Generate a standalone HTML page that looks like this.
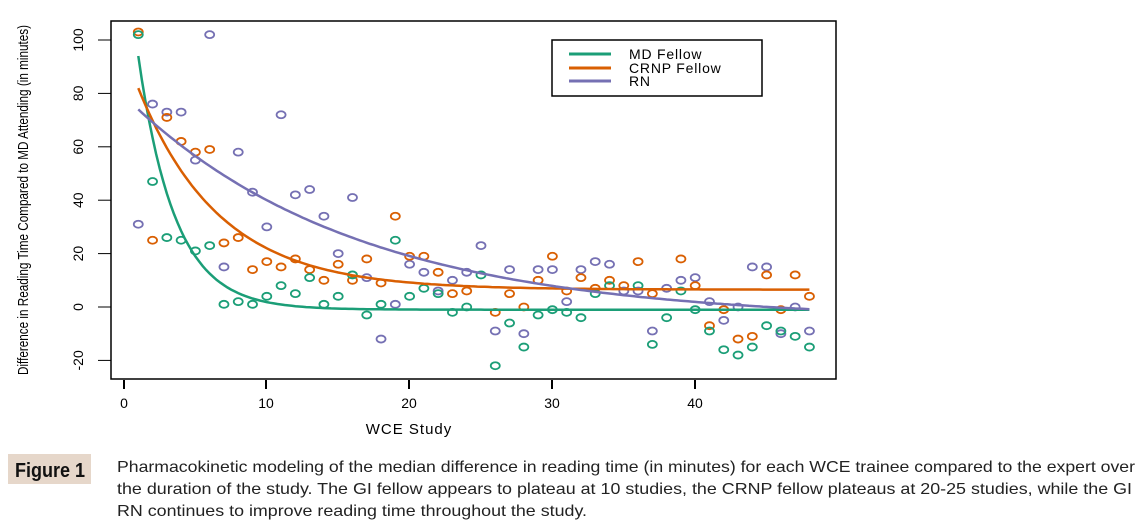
<!DOCTYPE html>
<html><head><meta charset="utf-8"><style>
html,body{margin:0;padding:0;background:#fff;}
svg{display:block;font-family:"Liberation Sans",sans-serif;}
</style></head><body>
<svg id="s" width="1141" height="525" viewBox="0 0 1141 525" xmlns="http://www.w3.org/2000/svg">
<rect x="0" y="0" width="1141" height="525" fill="#fff"/>
<rect x="111" y="21" width="725" height="358" fill="none" stroke="#000" stroke-width="1.5"/>
<g stroke="#000" stroke-width="2">
<line x1="124" y1="380" x2="124" y2="389"/><line x1="266" y1="380" x2="266" y2="389"/>
<line x1="409" y1="380" x2="409" y2="389"/><line x1="552" y1="380" x2="552" y2="389"/>
<line x1="695" y1="380" x2="695" y2="389"/>
</g>
<g font-size="14" text-anchor="middle" fill="#000">
<text x="124" y="408">0</text><text x="266" y="408">10</text><text x="409" y="408">20</text>
<text x="552" y="408">30</text><text x="695" y="408">40</text>
<text x="409" y="434" font-size="15" letter-spacing="1">WCE Study</text>
</g>
<g stroke="#000" stroke-width="1">
<line x1="98" y1="40" x2="111" y2="40"/><line x1="98" y1="93.4" x2="111" y2="93.4"/>
<line x1="98" y1="146.8" x2="111" y2="146.8"/><line x1="98" y1="200.2" x2="111" y2="200.2"/>
<line x1="98" y1="253.6" x2="111" y2="253.6"/><line x1="98" y1="307" x2="111" y2="307"/>
<line x1="98" y1="360.4" x2="111" y2="360.4"/>
</g>
<g font-size="14" text-anchor="middle" fill="#000">
<text transform="translate(83,40) rotate(-90)">100</text>
<text transform="translate(83,93.4) rotate(-90)">80</text>
<text transform="translate(83,146.8) rotate(-90)">60</text>
<text transform="translate(83,200.2) rotate(-90)">40</text>
<text transform="translate(83,253.6) rotate(-90)">20</text>
<text transform="translate(83,307) rotate(-90)">0</text>
<text transform="translate(83,360.4) rotate(-90)">-20</text>
<text transform="translate(28,200) rotate(-90)" font-size="15" textLength="350" lengthAdjust="spacingAndGlyphs">Difference in Reading Time Compared to MD Attending (in minutes)</text>
</g>
<g id="pts"></g>
<g id="crv"></g>
<rect x="552" y="40" width="210" height="56" fill="#fff" stroke="#000" stroke-width="1.5"/>
<line x1="569" y1="54" x2="611" y2="54" stroke="#1b9e77" stroke-width="3"/>
<line x1="569" y1="68" x2="611" y2="68" stroke="#d95f02" stroke-width="3"/>
<line x1="569" y1="81" x2="611" y2="81" stroke="#7570b3" stroke-width="3"/>
<g font-size="14" fill="#000" letter-spacing="0.8">
<text x="629" y="59">MD Fellow</text>
<text x="629" y="73">CRNP Fellow</text>
<text x="629" y="86">RN</text>
</g>
<rect x="8" y="454" width="83" height="30" fill="#e6d7ca"/>
<text x="15" y="477" font-size="20" font-weight="bold" fill="#111" textLength="70" lengthAdjust="spacingAndGlyphs">Figure 1</text>
<g font-size="16" fill="#222">
<text x="117" y="472" textLength="1018" lengthAdjust="spacingAndGlyphs">Pharmacokinetic modeling of the median difference in reading time (in minutes) for each WCE trainee compared to the expert over</text>
<text x="117" y="494" textLength="1015" lengthAdjust="spacingAndGlyphs">the duration of the study. The GI fellow appears to plateau at 10 studies, the CRNP fellow plateaus at 20-25 studies, while the GI</text>
<text x="117" y="516" textLength="470" lengthAdjust="spacingAndGlyphs">RN continues to improve reading time throughout the study.</text>
</g>
</svg>
<script>
(function(){
var NS="http://www.w3.org/2000/svg";
function X(x){return 124+x*14.28;}
function Y(y){return 307-y*2.67;}
var G=[102,47,26,25,21,23,1,2,1,4,8,5,11,1,4,12,-3,1,25,4,7,5,-2,0,12,-22,-6,-15,-3,-1,-2,-4,5,8,null,8,-14,-4,6,-1,-9,-16,-18,-15,-7,-9,-11,-15];
var O=[103,25,71,62,58,59,24,26,14,17,15,18,14,10,16,10,18,9,34,19,19,13,5,6,null,-2,5,0,10,19,6,11,7,10,8,17,5,null,18,8,-7,-1,-12,-11,12,-1,12,4];
var P=[31,76,73,73,55,102,15,58,43,30,72,42,44,34,20,41,11,-12,1,16,13,6,10,13,23,-9,14,-10,14,14,2,14,17,16,6,6,-9,7,10,11,2,-5,0,15,15,-10,0,-9];
var gp=document.getElementById('pts'),gc=document.getElementById('crv');
function pts(a,c){for(var i=0;i<a.length;i++){if(a[i]===null)continue;var e=document.createElementNS(NS,'ellipse');
e.setAttribute('cx',X(i+1));e.setAttribute('cy',Y(a[i]));e.setAttribute('rx','4.5');e.setAttribute('ry','3.5');
e.setAttribute('fill','none');e.setAttribute('stroke',c);e.setAttribute('stroke-width','1.8');gp.appendChild(e);}}
pts(P,'#7570b3');pts(O,'#d95f02');pts(G,'#1b9e77');
function crv(a,b,k,c){var d='';for(var x=1;x<=48.001;x+=0.25){d+=(x==1?'M':'L')+X(x).toFixed(1)+','+Y(a+b*Math.exp(-k*(x-1))).toFixed(1);}
var p=document.createElementNS(NS,'path');p.setAttribute('d',d);p.setAttribute('fill','none');p.setAttribute('stroke',c);p.setAttribute('stroke-width','2.5');gc.appendChild(p);}
crv(-1,95,0.39,'#1b9e77');crv(6.5,75.5,0.176,'#d95f02');crv(-5,79,0.0625,'#7570b3');
})();
</script>
</body></html>
